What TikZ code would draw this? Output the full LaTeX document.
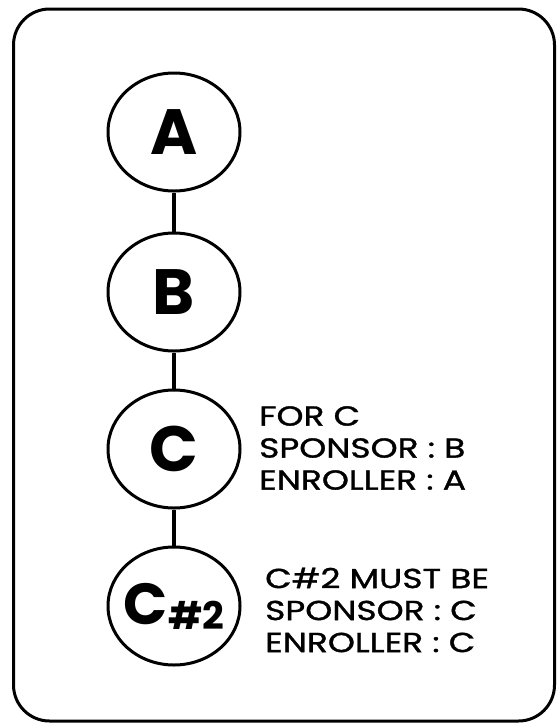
\documentclass[tikz,border=0pt]{standalone}
\usepackage{fontspec}
\setmainfont{Poppins}
\newfontfamily\notefont[FakeStretch=1.25, FakeBold=1.2]{Poppins}
\usepackage{tikz}
\usetikzlibrary{shapes.geometric}

\tikzset{
  member/.style={draw, ellipse, line width=3pt, minimum width=132pt, minimum height=118pt, inner sep=0pt, font=\fontsize{64}{64}\selectfont\bfseries},
  link/.style={line width=3.5pt},
  note/.style={anchor=west, align=left, inner sep=0pt, font=\notefont\fontsize{27.5}{32}\selectfont}
}

\begin{document}
\begin{tikzpicture}[x=1pt, y=-1pt]
  \useasboundingbox (0,0) rectangle (557,724);
  \draw[line width=3pt, rounded corners=36pt] (13.5,9) rectangle (554.5,721);

  \node[member] (A) at (174,132) {A};
  \node[member] (B) at (174,292) {B};
  \node[member] (C) at (174,449) {C};
  \node[member] (C2) at (174,606) {\makebox[40pt][c]{\fontsize{58}{58}\selectfont C\raisebox{-5pt}{\fontsize{38}{38}\selectfont\#2}}};

  \draw[link] (A) -- (B);
  \draw[link] (B) -- (C);
  \draw[link] (C) -- (C2);

  % rules for C
  \node[note] (forC) at (259,448) {FOR C\\SPONSOR : B\\ENROLLER : A};
  \node[note] (forC2) at (265,610) {C\#2 MUST BE\\SPONSOR : C\\ENROLLER : C};
\end{tikzpicture}
\end{document}
